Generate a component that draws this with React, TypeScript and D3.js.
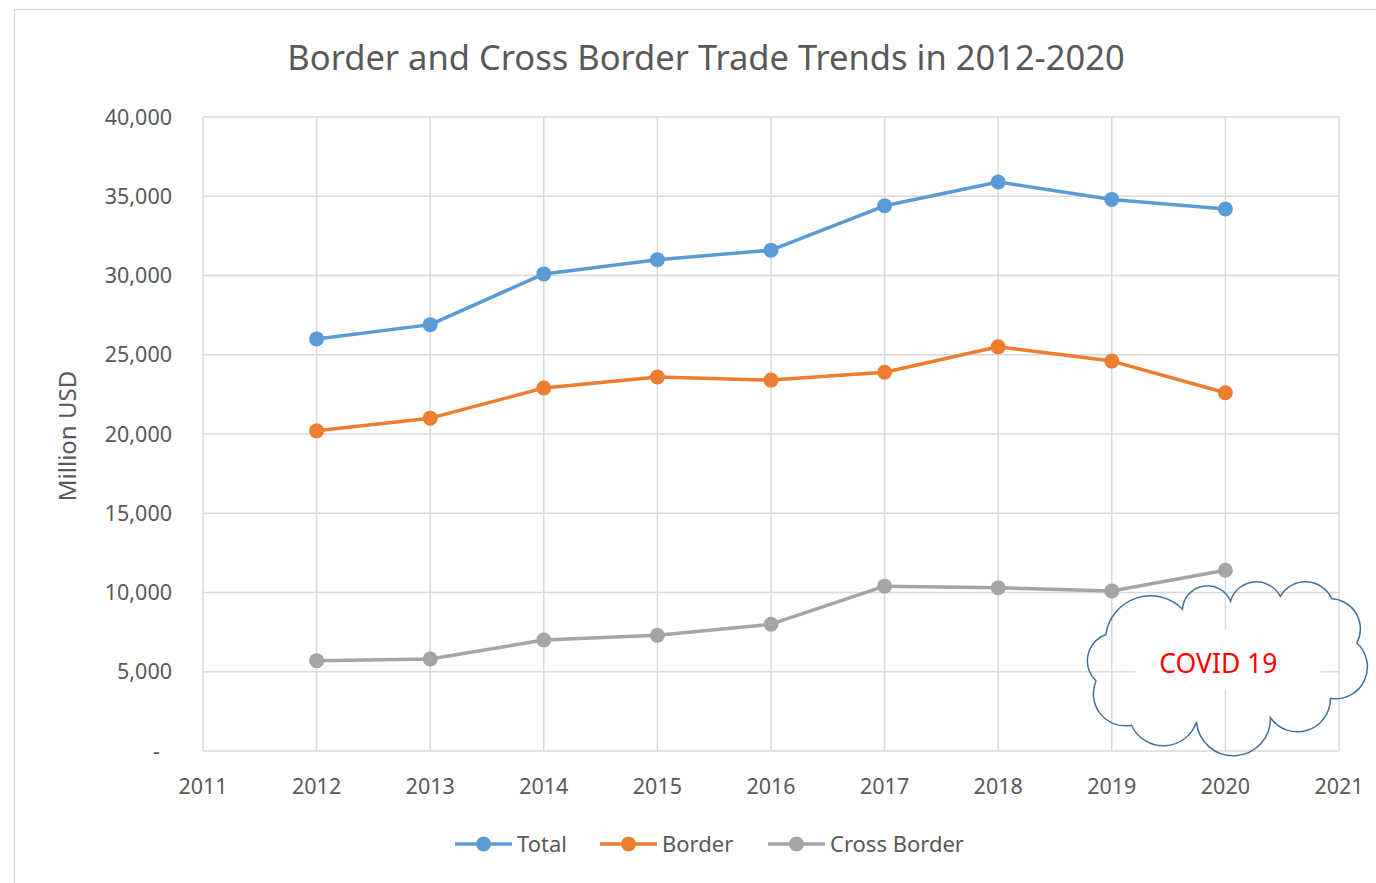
import { useRef, useEffect } from 'react';
import * as d3 from 'd3';

// Data (Million USD)
const years = [2012, 2013, 2014, 2015, 2016, 2017, 2018, 2019, 2020];
const totalValues = [26000, 26900, 30100, 31000, 31600, 34400, 35900, 34800, 34200];
const borderValues = [20200, 21000, 22900, 23600, 23400, 23900, 25500, 24600, 22600];
const crossBorderValues = [5700, 5800, 7000, 7300, 8000, 10400, 10300, 10100, 11400];
const seriesNames = ['Total', 'Border', 'Cross Border'];
const seriesColors = ['#5B9BD5', '#ED7D31', '#A5A5A5'];
const xTicks = [2011, 2012, 2013, 2014, 2015, 2016, 2017, 2018, 2019, 2020, 2021];
const yTicks = [0, 5000, 10000, 15000, 20000, 25000, 30000, 35000, 40000];

const WIDTH = 1376;
const HEIGHT = 883;
const FONT = '"Noto Sans", "Open Sans", sans-serif';
const TEXT_COLOR = '#595959';

// cloud bumps: [dx, dy, r] relative to the cloud anchor, clockwise
const cloudBumps: [number, number, number][] = [
  [-75, -23, 45], [-18, -53, 25], [31, -55, 27], [80, -53, 29], [105, -35, 30],
  [110, 3, 32], [72, 35, 33], [8, 55, 37], [-62, 47, 35], [-100, 30, 32], [-110, -3, 28]
];

function cloudPath(cx: number, cy: number) {
  const circles = cloudBumps.map(([dx, dy, r]) => ({ x: cx + dx, y: cy + dy, r }));
  const n = circles.length;
  // outer intersection of circle a and b
  const meet = (a: any, b: any) => {
    const dx = b.x - a.x, dy = b.y - a.y;
    const d = Math.hypot(dx, dy);
    const l = (a.r * a.r - b.r * b.r + d * d) / (2 * d);
    const h = Math.sqrt(Math.max(0, a.r * a.r - l * l));
    const mx = a.x + (l * dx) / d, my = a.y + (l * dy) / d;
    const p1 = [mx + (h * dy) / d, my - (h * dx) / d];
    const p2 = [mx - (h * dy) / d, my + (h * dx) / d];
    const d1 = Math.hypot(p1[0] - cx, p1[1] - cy);
    const d2 = Math.hypot(p2[0] - cx, p2[1] - cy);
    return d1 > d2 ? p1 : p2;
  };
  const pts = circles.map((c, i) => meet(c, circles[(i + 1) % n]));
  let path = `M${pts[n - 1][0]},${pts[n - 1][1]}`;
  circles.forEach((c, i) => {
    const from = pts[(i - 1 + n) % n];
    const to = pts[i];
    const a1 = Math.atan2(from[1] - c.y, from[0] - c.x);
    const a2 = Math.atan2(to[1] - c.y, to[0] - c.x);
    let delta = a2 - a1;
    while (delta < 0) delta += Math.PI * 2;
    const large = delta > Math.PI ? 1 : 0;
    path += ` A${c.r},${c.r} 0 ${large} 1 ${to[0]},${to[1]}`;
  });
  return path + 'Z';
}

export default function App() {
  const svgRef = useRef<SVGSVGElement>(null);

  useEffect(() => {
    if (!svgRef.current) return;
    const svg = d3.select(svgRef.current);
    svg.selectAll('*').remove();

    const margin = { top: 117, right: 37, bottom: 132, left: 203 };
    const innerWidth = WIDTH - margin.left - margin.right;
    const innerHeight = HEIGHT - margin.top - margin.bottom;

    // chart frame
    svg.append('rect')
      .attr('x', 14.5).attr('y', 9.5)
      .attr('width', WIDTH + 20).attr('height', HEIGHT + 20)
      .attr('fill', '#fff').attr('stroke', '#d9d9d9').attr('stroke-width', 1.5);

    svg.append('text')
      .attr('x', 706).attr('y', 70)
      .attr('text-anchor', 'middle')
      .attr('font-family', FONT).attr('font-size', 34.5)
      .attr('fill', TEXT_COLOR)
      .text('Border and Cross Border Trade Trends in 2012-2020');

    const g = svg.append('g')
      .attr('transform', `translate(${margin.left},${margin.top})`);

    const xScale = d3.scaleLinear().domain([2011, 2021]).range([0, innerWidth]);
    const yScale = d3.scaleLinear().domain([0, 40000]).range([innerHeight, 0]);

    // gridlines
    g.append('g').selectAll('line').data(yTicks).join('line')
      .attr('x1', 0).attr('x2', innerWidth)
      .attr('y1', d => yScale(d)).attr('y2', d => yScale(d))
      .attr('stroke', '#d9d9d9').attr('stroke-width', 1.5);
    g.append('g').selectAll('line').data(xTicks).join('line')
      .attr('x1', d => xScale(d)).attr('x2', d => xScale(d))
      .attr('y1', 0).attr('y2', innerHeight)
      .attr('stroke', '#d9d9d9').attr('stroke-width', 1.5);

    // y axis labels
    const fmt = d3.format(',');
    g.append('g').selectAll('text').data(yTicks).join('text')
      .attr('x', d => (d === 0 ? -43 : -31))
      .attr('y', d => yScale(d))
      .attr('dy', '0.35em')
      .attr('text-anchor', 'end')
      .attr('font-family', FONT).attr('font-size', 21.5)
      .attr('fill', TEXT_COLOR)
      .text(d => (d === 0 ? '-' : fmt(d)));

    // x axis labels
    g.append('g').selectAll('text').data(xTicks).join('text')
      .attr('x', d => xScale(d))
      .attr('y', innerHeight + 43)
      .attr('text-anchor', 'middle')
      .attr('font-family', FONT).attr('font-size', 21.5)
      .attr('fill', TEXT_COLOR)
      .text(d => String(d));

    svg.append('text')
      .attr('transform', `translate(76,436) rotate(-90)`)
      .attr('text-anchor', 'middle')
      .attr('font-family', FONT).attr('font-size', 24)
      .attr('fill', TEXT_COLOR)
      .text('Million USD');

    const series = [totalValues, borderValues, crossBorderValues];
    const line = d3.line<number>()
      .x((_, i) => xScale(years[i]))
      .y(d => yScale(d));

    series.forEach((values, si) => {
      g.append('path')
        .datum(values)
        .attr('fill', 'none')
        .attr('stroke', seriesColors[si])
        .attr('stroke-width', 3.5)
        .attr('stroke-linejoin', 'round')
        .attr('d', line);
      g.append('g').selectAll('circle').data(values).join('circle')
        .attr('cx', (_, i) => xScale(years[i]))
        .attr('cy', d => yScale(d))
        .attr('r', 7.5)
        .attr('fill', seriesColors[si]);
    });

    // COVID 19 cloud annotation
    const cx = xScale(2020);
    const cy = yScale(5500);
    g.append('rect')
      .attr('x', cx - 90).attr('y', cy - 35)
      .attr('width', 185).attr('height', 60)
      .attr('fill', '#fff');
    g.append('path')
      .attr('d', cloudPath(cx, cy))
      .attr('fill', 'none')
      .attr('stroke', '#41719C')
      .attr('stroke-width', 1.5);
    g.append('text')
      .attr('x', cx - 7).attr('y', cy)
      .attr('dy', '0.35em')
      .attr('text-anchor', 'middle')
      .attr('font-family', FONT).attr('font-size', 26.5)
      .attr('fill', '#FF0000')
      .text('COVID 19');

    // legend
    const legendX = [455, 600, 768];
    const legend = svg.append('g').attr('transform', 'translate(0,844)');
    seriesNames.forEach((name, i) => {
      const item = legend.append('g').attr('transform', `translate(${legendX[i]},0)`);
      item.append('line')
        .attr('x1', 0).attr('x2', 57).attr('y1', 0).attr('y2', 0)
        .attr('stroke', seriesColors[i]).attr('stroke-width', 3.5);
      item.append('circle')
        .attr('cx', 28.5).attr('cy', 0).attr('r', 7.5)
        .attr('fill', seriesColors[i]);
      item.append('text')
        .attr('x', 62).attr('y', 0).attr('dy', '0.35em')
        .attr('font-family', FONT).attr('font-size', 22)
        .attr('fill', TEXT_COLOR)
        .text(name);
    });
  }, []);

  return (
    <svg
      ref={svgRef}
      width={WIDTH}
      height={HEIGHT}
      style={{ position: 'absolute', left: 0, top: 0, background: '#fff' }}
    />
  );
}
